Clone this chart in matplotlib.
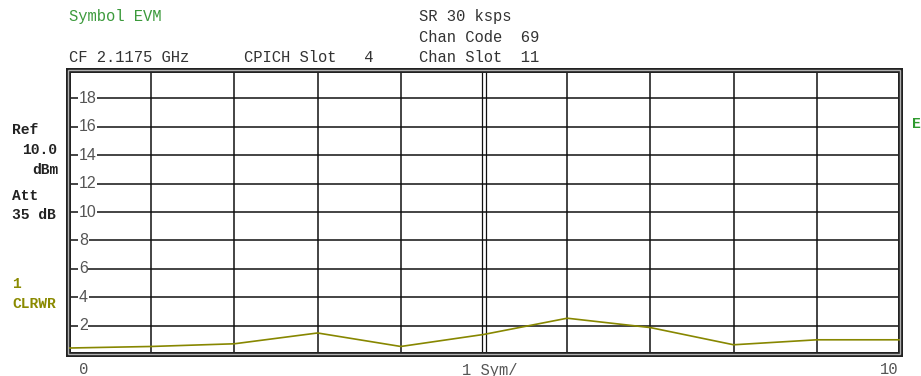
import matplotlib
matplotlib.use('Agg')
import matplotlib.pyplot as plt
from matplotlib.patches import Rectangle

# trace values (symbol EVM, %)
symbols = [0, 1, 2, 3, 4, 5, 6, 7, 8, 9, 10]
evm = [0.42, 0.53, 0.72, 1.48, 0.53, 1.38, 2.52, 1.86, 0.65, 1.0, 1.0]
y_ticks = [2, 4, 6, 8, 10, 12, 14, 16, 18]

W, H = 921, 376
fig = plt.figure(figsize=(W / 100, H / 100), dpi=100)
fig.patch.set_facecolor('white')

def px(x, y):
    return x / W, 1 - y / H

ax = fig.add_axes([68 / W, 1 - 354 / H, 832 / W, 284 / H])
ax.set_xlim(0, 10)
ax.set_ylim(0, 20)
ax.set_xticks([])
ax.set_yticks([])

# grid
for x in range(1, 10):
    if x != 5:
        ax.axvline(x, color='#111111', lw=1.1, zorder=1)
ax.axvline(4.98, color='#111111', lw=0.9, zorder=1)
ax.axvline(5.02, color='#111111', lw=0.9, zorder=1)
for y in y_ticks:
    ax.axhline(y, color='#111111', lw=1.1, zorder=1)
    ax.text(0.13, y, str(y), ha='left', va='center', fontsize=11.5,
            family='Liberation Sans', color='#555555', zorder=2,
            bbox=dict(facecolor='white', edgecolor='none', pad=0.6))

ax.plot(symbols, evm, color='#878700', lw=1.2, zorder=3)

# double frame
for s in ax.spines.values():
    s.set_linewidth(3.6)
    s.set_color('#222222')
ax.add_patch(Rectangle((0, 0), 1, 1, transform=ax.transAxes, fill=False,
                       lw=1.0, ec='#b0b0b0', clip_on=False, zorder=5))

mono = 'Liberation Mono'
dark = '#333333'
fs = 11.2
fig.text(*px(69, 17), 'Symbol EVM', color='#3c9a3c', family=mono, fontsize=fs, va='center')
fig.text(*px(419, 17), 'SR 30 ksps', color=dark, family=mono, fontsize=fs, va='center')
fig.text(*px(419, 37), 'Chan Code  69', color=dark, family=mono, fontsize=fs, va='center')
fig.text(*px(69, 57), 'CF 2.1175 GHz', color=dark, family=mono, fontsize=fs, va='center')
fig.text(*px(244, 57), 'CPICH Slot   4', color=dark, family=mono, fontsize=fs, va='center')
fig.text(*px(419, 57), 'Chan Slot  11', color=dark, family=mono, fontsize=fs, va='center')

left = [(12, 130, 'Ref', '#222222'), (22, 150, '10.0', '#222222'),
        (32, 170, 'dBm', '#222222'), (12, 196, 'Att', '#222222'),
        (12, 215, '35 dB', '#222222'), (12, 284, '1', '#8a8a00'),
        (12, 304, 'CLRWR', '#8a8a00')]
for x, y, t, c in left:
    fig.text(*px(x, y), t, color=c, family=mono, fontsize=10.5,
             fontweight='bold', va='center')
fig.text(*px(912, 124), 'E', color='#2e9a2e', family=mono, fontsize=10.5,
         fontweight='bold', va='center')

fig.text(*px(79, 370), '0', color='#555555', family=mono, fontsize=fs, va='center')
fig.text(*px(462, 370), '1 Sym/', color='#555555', family=mono, fontsize=fs, va='center')
fig.text(*px(898, 370), '10', color='#555555', family=mono, fontsize=fs,
         va='center', ha='right')

fig.savefig('out.png', dpi=100)
